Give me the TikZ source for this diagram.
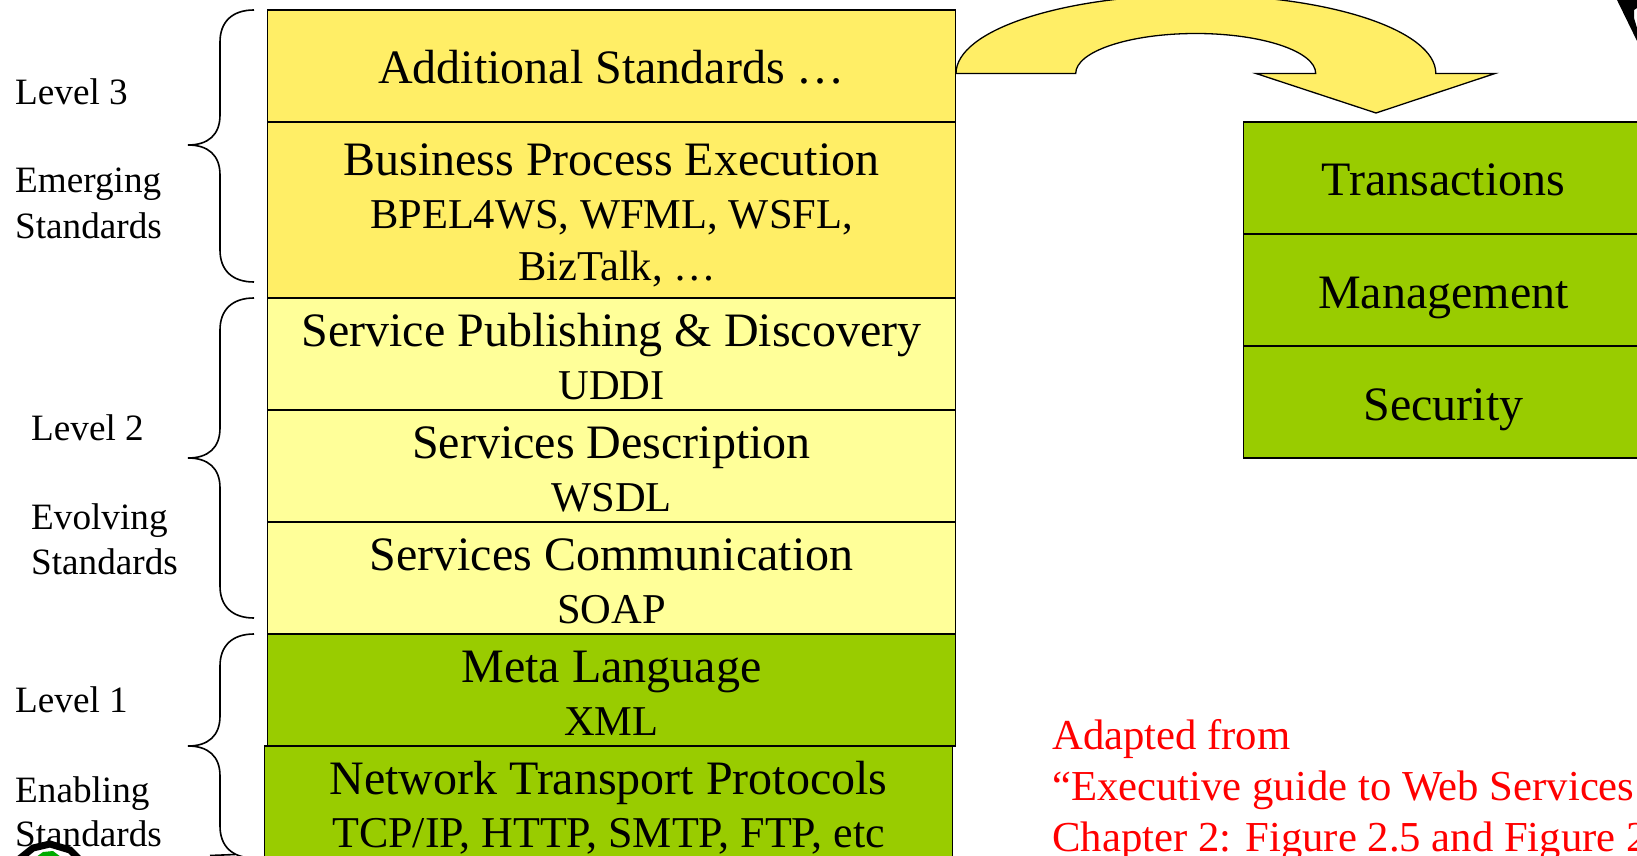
\documentclass[tikz,border=0pt]{standalone}
\usepackage{fontspec}
\setmainfont{Liberation Serif}

\definecolor{amarillo}{HTML}{FFEE66}
\definecolor{amarilloclaro}{HTML}{FFFF99}
\definecolor{verde}{HTML}{99CC00}
\definecolor{verdelogo}{HTML}{00AA00}

\newcommand{\subfont}{\fontsize{42.5}{53}\selectfont}
\newcommand{\subfontred}{\fontsize{44}{53}\selectfont}

\tikzset{
  capa/.style={draw=black, line width=1.6pt, minimum width=688pt, minimum height=112pt,
    inner sep=0pt, outer sep=0pt, align=center, font=\fontsize{48}{53}\selectfont,
    text height=90pt, text depth=0pt},
  sola/.style={capa, text height=36pt},
  lado/.style={sola, minimum width=400pt},
  nivel/.style={anchor=base west, inner sep=0pt, font=\fontsize{37.2}{44}\selectfont},
  llave/.style={line width=1.6pt},
  nota/.style={anchor=base west, inner sep=0pt, text=red, font=\fontsize{42.7}{51}\selectfont}
}

\begin{document}
\begin{tikzpicture}[x=1pt, y=-1pt]
    \clip (0,0) rectangle (1637,855.8);

    % Columna principal
    \node[sola, fill=amarillo] (adicional) at (611.5,66) {Additional Standards …};
    \node[capa, fill=amarillo, minimum height=176pt, text height=140pt] (negocio) at (611.5,210) {Business Process Execution\\ {\subfont BPEL4WS, WFML, WSFL,}\\[-1pt] {\subfont\hspace*{11pt}BizTalk, …}};
    \node[capa, fill=amarilloclaro] (publicacion) at (611.5,354) {Service Publishing \& Discovery\\ {\subfont UDDI}};
    \node[capa, fill=amarilloclaro] (descripcion) at (611.5,466) {Services Description\\ {\subfont WSDL}};
    \node[capa, fill=amarilloclaro] (comunicacion) at (611.5,578) {Services Communication\\ {\subfont SOAP}};
    \node[capa, fill=verde] (meta) at (611.5,690) {Meta Language\\ {\subfont XML}};
    \node[capa, fill=verde] (red) at (608.5,802) {Network Transport Protocols\\ {\subfontred TCP/IP, HTTP, SMTP, FTP, etc}};

    % Columna derecha
    \node[lado, fill=verde] (transacciones) at (1443.5,178) {Transactions};
    \node[lado, fill=verde] (gestion) at (1443.5,290) {Management};
    \node[lado, fill=verde] (seguridad) at (1443.5,402) {Security};

    % Flecha curva
    \draw[line width=1.3pt, fill=amarillo] (956,73.5) .. controls (956,30.1) and (1063.2,-5.1) .. (1195.8,-5.1)
        .. controls (1328.4,-5.1) and (1435.8,30.1) .. (1435.8,73.5) -- (1495,73.5) -- (1376,113) -- (1256,73.5)
        -- (1315.7,73.5) .. controls (1315.7,51.4) and (1262,33.5) .. (1195.8,33.5)
        .. controls (1129.5,33.5) and (1075.7,51.4) .. (1075.7,73.5) -- cycle;

    % Llaves
    \draw[llave] (254,10) .. controls (232,10) and (220,22) .. (220,42) -- (220,115) .. controls (220,135) and (208,145) .. (188,145)
        .. controls (208,145) and (220,155) .. (220,175) -- (220,250) .. controls (220,270) and (232,282) .. (254,282);
    \draw[llave] (254,298) .. controls (232,298) and (220,310) .. (220,330) -- (220,428) .. controls (220,448) and (208,458) .. (188,458)
        .. controls (208,458) and (220,468) .. (220,488) -- (220,586) .. controls (220,606) and (232,618) .. (254,618);
    \draw[llave] (254,634) .. controls (232,634) and (220,646) .. (220,666) -- (220,716) .. controls (220,736) and (208,746) .. (188,746)
        .. controls (208,746) and (220,756) .. (220,776) -- (220,826) .. controls (220,846) and (232,858) .. (254,858);
    \draw[llave] (210,855.5) -- (235,854.5);

    % Niveles
    \node[nivel] (nivel3) at (15,105) {Level 3};
    \node[nivel] (emergentes) at (15,193) {Emerging};
    \node[nivel] (emergentes2) at (15,238) {Standards};
    \node[nivel] (nivel2) at (31,440) {Level 2};
    \node[nivel] (evolutivos) at (31,529) {Evolving};
    \node[nivel] (evolutivos2) at (31,574) {Standards};
    \node[nivel] (nivel1) at (15,712) {Level 1};
    \node[nivel] (habilitantes) at (15,802) {Enabling};
    \node[nivel] (habilitantes2) at (15,846) {Standards};

    % Nota en rojo
    \node[nota] (nota1) at (1052,749) {Adapted from};
    \node[nota] (nota2) at (1052,800) {“Executive guide to Web Services};
    \node[nota] (nota3) at (1052,851) {Chapter 2: Figure 2.5 and Figure 2};

    % Restos de figuras en los bordes
    \fill[black] (1617,0) -- (1637,41) -- (1637,28) -- (1634,18) -- (1634,10) -- (1637,8) -- (1637,0) -- cycle;
    \fill[verdelogo] (32,860) -- (43,852) -- (53,851) -- (65,860) -- cycle;
    \draw[line width=7pt] (18,860) -- (33,848) -- (50,844) -- (70,850) -- (80,860);
\end{tikzpicture}
\end{document}
